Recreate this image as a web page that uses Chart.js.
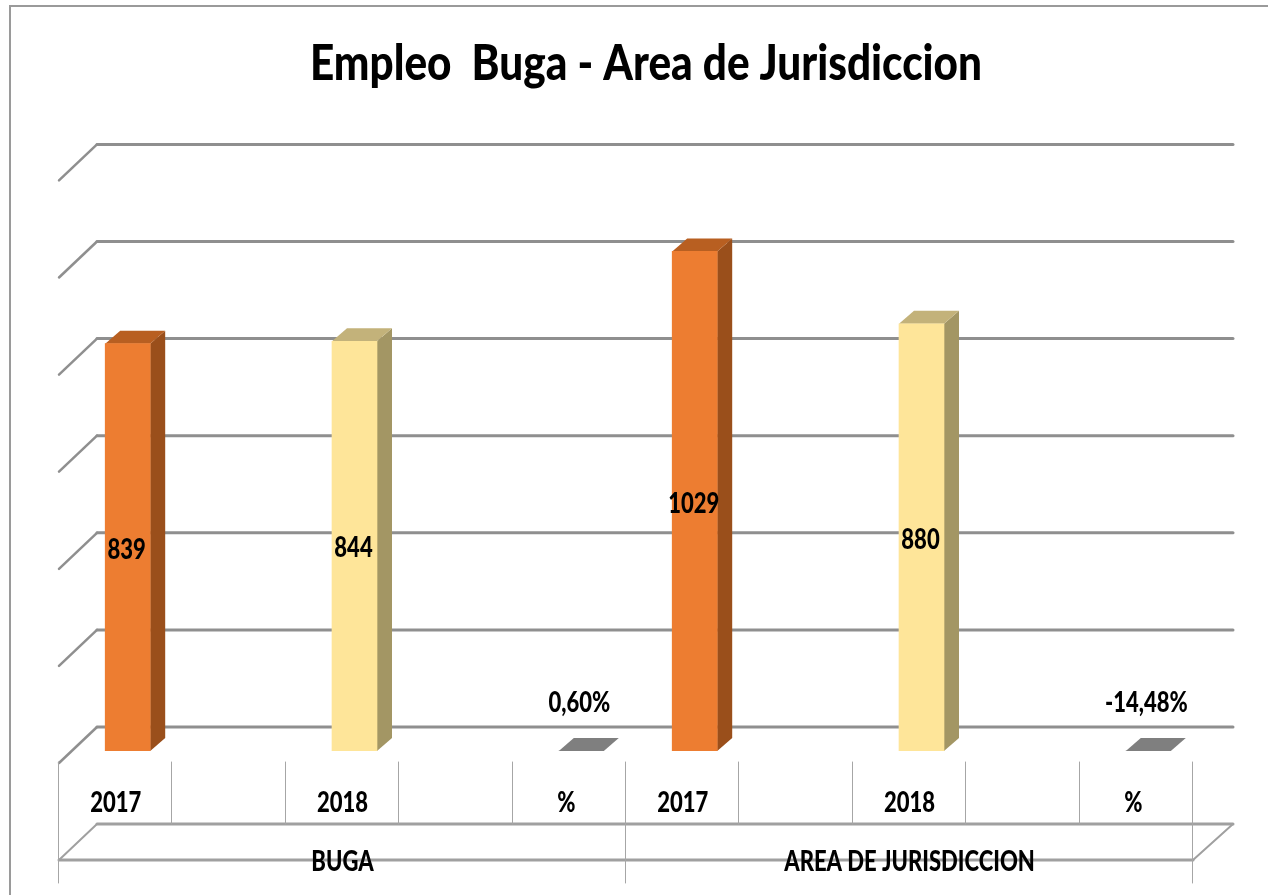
<!DOCTYPE html>
<html>
<head>
<meta charset="utf-8">
<script src="https://cdn.jsdelivr.net/npm/chart.js@4/dist/chart.umd.min.js"></script>
<style>
  html, body { margin: 0; padding: 0; background: #fff; overflow: hidden; }
  #wrap { position: absolute; left: 0; top: 0; width: 1268px; height: 895px; }
  #frame { position: absolute; left: 9px; top: 5px; right: 0; bottom: 0; border-left: 2px solid #9a9a9a; border-top: 2px solid #9a9a9a; }
  canvas { position: absolute; left: 0; top: 0; }
</style>
</head>
<body>
<div id="wrap">
  <div id="frame"></div>
  <canvas id="myChart" width="1268" height="895"></canvas>
</div>
<script>
const categories = ["2017", "", "2018", "", "%", "2017", "", "2018", "", "%"];
const groups = ["BUGA", "AREA DE JURISDICCION"];
const values = [839, null, 844, null, 0.006, 1029, null, 880, null, -0.1448];
const valueLabels = ["839", "", "844", "", "0,60%", "1029", "", "880", "", "-14,48%"];
const frontColors = ["#ED7D31", null, "#FEE599", null, "#7F7F7F", "#ED7D31", null, "#FEE599", null, "#7F7F7F"];
const topColors = ["#B85F21", null, "#C3B27A", null, "#7F7F7F", "#B85F21", null, "#C3B27A", null, "#7F7F7F"];
const sideColors = ["#9A4F1B", null, "#A39664", null, "#7F7F7F", "#9A4F1B", null, "#A39664", null, "#7F7F7F"];

const font = "Lato, 'Liberation Sans', sans-serif";

// calibri-ish: Lato squeezed sideways with fillText's maxWidth
function narrowText(ctx, text, x, y) {
  ctx.fillText(text, x, y, ctx.measureText(text).width * 0.76);
}

// the fake 3D look, all of it hung on the scales
const fake3d = {
  id: "fake3d",
  afterLayout(chart) {
    // squeeze the title into the width it has in the picture
    chart.titleBlock.left = 310;
    chart.titleBlock.right = 982;
  },
  beforeDatasetsDraw(chart) {
    const { ctx, scales: { x, y } } = chart;
    const left = x.left - 12, back = x.left + 26, right = x.right + 28;
    ctx.save();
    ctx.lineCap = "round";
    ctx.strokeStyle = "#8f8f8f";
    y.ticks.forEach((t) => {
      const py = y.getPixelForValue(t.value);
      ctx.lineWidth = 2.5;
      ctx.beginPath();
      ctx.moveTo(left, py + 12);
      ctx.lineTo(back, py - 24);
      ctx.stroke();
      ctx.lineWidth = 3;
      ctx.beginPath();
      ctx.moveTo(back, py - 24);
      ctx.lineTo(right, py - 24);
      ctx.stroke();
    });
    // axis box under the plot
    const base = y.getPixelForValue(0);
    ctx.strokeStyle = "#a0a0a0";
    ctx.lineWidth = 3;
    ctx.beginPath();
    ctx.moveTo(back, base + 73);
    ctx.lineTo(right, base + 73);
    ctx.moveTo(left, base + 109);
    ctx.lineTo(left + x.width, base + 109);
    ctx.stroke();
    ctx.lineWidth = 2;
    ctx.beginPath();
    ctx.moveTo(left, base + 109);
    ctx.lineTo(back, base + 73);
    ctx.moveTo(left + x.width, base + 109);
    ctx.lineTo(right, base + 73);
    ctx.stroke();
    ctx.lineWidth = 1;
    ctx.strokeStyle = "#a6a6a6";
    for (let i = 0; i <= categories.length; i++) {
      const px = Math.round(x.left + (x.width * i) / categories.length - 12) - 0.5;
      const tall = i === 0 || i === 5 || i === 10;
      ctx.beginPath();
      ctx.moveTo(px, base + 11);
      ctx.lineTo(px, base + (tall ? 132 : 73));
      ctx.stroke();
    }
    // side and top faces of each bar
    chart.getDatasetMeta(0).data.forEach((bar, i) => {
      if (values[i] === null) return;
      const w = bar.width / 2, dx = 15, dy = 13;
      const yTop = Math.min(bar.y, base);
      ctx.fillStyle = sideColors[i];
      ctx.beginPath();
      ctx.moveTo(bar.x + w, base);
      ctx.lineTo(bar.x + w + dx, base - dy);
      ctx.lineTo(bar.x + w + dx, yTop - dy);
      ctx.lineTo(bar.x + w, yTop);
      ctx.closePath();
      ctx.fill();
      ctx.fillStyle = topColors[i];
      ctx.beginPath();
      ctx.moveTo(bar.x - w, yTop);
      ctx.lineTo(bar.x - w + dx, yTop - dy);
      ctx.lineTo(bar.x + w + dx, yTop - dy);
      ctx.lineTo(bar.x + w, yTop);
      ctx.closePath();
      ctx.fill();
    });
    ctx.restore();
  },
  afterDatasetsDraw(chart) {
    const { ctx, scales: { x, x2, y } } = chart;
    const base = y.getPixelForValue(0);
    ctx.save();
    ctx.fillStyle = "#000";
    ctx.font = "900 29px " + font;
    ctx.textAlign = "center";
    ctx.textBaseline = "middle";
    chart.getDatasetMeta(0).data.forEach((bar, i) => {
      if (values[i] === null) return;
      const flat = Math.abs(values[i]) < 1;
      const ly = flat ? base - 48 : (bar.y + base) / 2 + 2;
      narrowText(ctx, valueLabels[i], bar.x + (flat ? -2 : -1), ly);
    });
    categories.forEach((c, i) => {
      if (c) narrowText(ctx, c, x.getPixelForValue(i) - (c === "%" ? 15 : 12), base + 52);
    });
    groups.forEach((g, i) => {
      narrowText(ctx, g, x2.getPixelForValue(i) - 12, base + 111);
    });
    ctx.restore();
  },
};

const ctx = document.getElementById("myChart").getContext("2d");
const myChart = new Chart(ctx, {
  type: "bar",
  data: {
    labels: categories,
    datasets: [
      {
        data: values,
        backgroundColor: frontColors,
        barThickness: 45,
        borderWidth: 0,
      },
    ],
  },
  plugins: [fake3d],
  options: {
    responsive: false,
    animation: false,
    layout: { padding: { left: 71, right: 63, top: 30, bottom: 14 } },
    plugins: {
      legend: { display: false },
      tooltip: { enabled: false },
      title: {
        display: true,
        text: "Empleo  Buga - Area de Jurisdiccion",
        color: "#000",
        font: { family: font, size: 50, weight: "900" },
        padding: { top: 4, bottom: 74.4 },
      },
    },
    scales: {
      x: {
        grid: { display: false },
        border: { display: false },
        ticks: { display: false, autoSkip: false },
        afterFit: (s) => { s.height = 75; },
      },
      x2: {
        type: "category",
        position: "bottom",
        labels: groups,
        grid: { display: false },
        border: { display: false },
        ticks: { display: false },
        afterFit: (s) => { s.height = 55; },
      },
      y: {
        display: false,
        min: 0,
        max: 1200,
        ticks: { stepSize: 200 },
      },
    },
  },
});
</script>
</body>
</html>
